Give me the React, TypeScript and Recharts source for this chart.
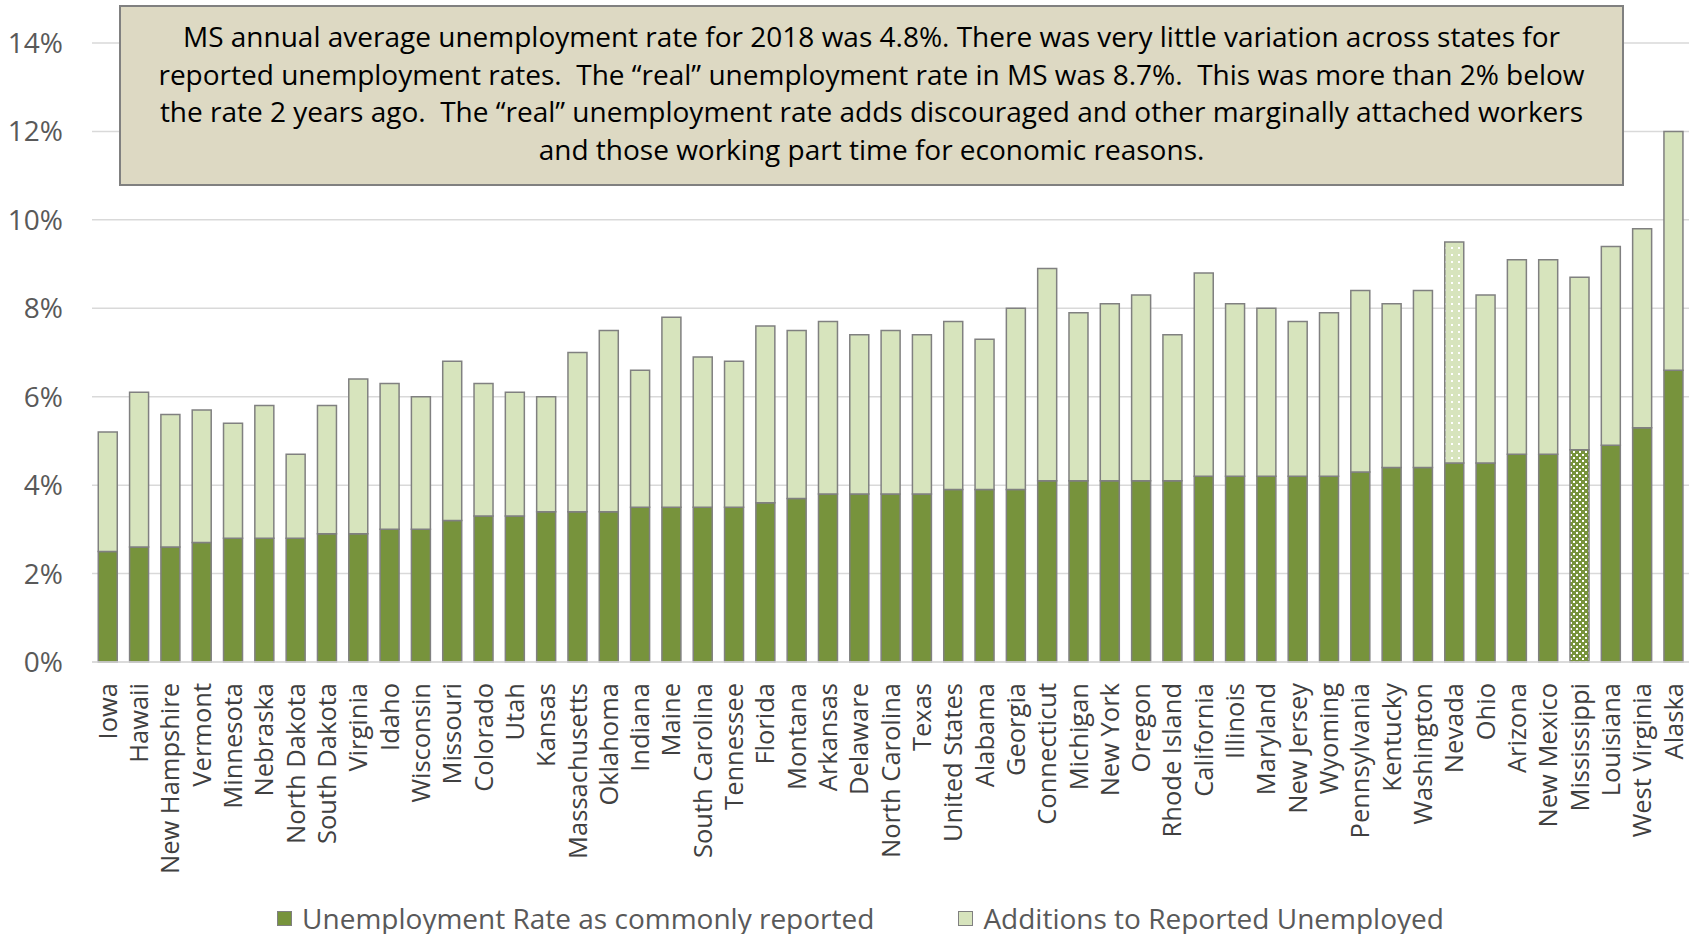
import React from 'react';
import { BarChart, Bar, XAxis, YAxis, CartesianGrid, Cell, Legend } from 'recharts';

const states = [
  'Iowa', 'Hawaii', 'New Hampshire', 'Vermont', 'Minnesota', 'Nebraska', 'North Dakota',
  'South Dakota', 'Virginia', 'Idaho', 'Wisconsin', 'Missouri', 'Colorado', 'Utah', 'Kansas',
  'Massachusetts', 'Oklahoma', 'Indiana', 'Maine', 'South Carolina', 'Tennessee', 'Florida',
  'Montana', 'Arkansas', 'Delaware', 'North Carolina', 'Texas', 'United States', 'Alabama',
  'Georgia', 'Connecticut', 'Michigan', 'New York', 'Oregon', 'Rhode Island', 'California',
  'Illinois', 'Maryland', 'New Jersey', 'Wyoming', 'Pennsylvania', 'Kentucky', 'Washington',
  'Nevada', 'Ohio', 'Arizona', 'New Mexico', 'Mississippi', 'Louisiana', 'West Virginia', 'Alaska',
];

// reported rate, percent
const reported = [
  2.5, 2.6, 2.6, 2.7, 2.8, 2.8, 2.8, 2.9, 2.9, 3.0, 3.0, 3.2, 3.3, 3.3, 3.4, 3.4, 3.4,
  3.5, 3.5, 3.5, 3.5, 3.6, 3.7, 3.8, 3.8, 3.8, 3.8, 3.9, 3.9, 3.9, 4.1, 4.1, 4.1, 4.1,
  4.1, 4.2, 4.2, 4.2, 4.2, 4.2, 4.3, 4.4, 4.4, 4.5, 4.5, 4.7, 4.7, 4.8, 4.9, 5.3, 6.6,
];

// additions on top of reported, percent
const additions = [
  2.7, 3.5, 3.0, 3.0, 2.6, 3.0, 1.9, 2.9, 3.5, 3.3, 3.0, 3.6, 3.0, 2.8, 2.6, 3.6, 4.1,
  3.1, 4.3, 3.4, 3.3, 4.0, 3.8, 3.9, 3.6, 3.7, 3.6, 3.8, 3.4, 4.1, 4.8, 3.8, 4.0, 4.2,
  3.3, 4.6, 3.9, 3.8, 3.5, 3.7, 4.1, 3.7, 4.0, 5.0, 3.8, 4.4, 4.4, 3.9, 4.5, 4.5, 5.4,
];

const yTicks = [0, 0.02, 0.04, 0.06, 0.08, 0.1, 0.12, 0.14];

const noteLines = [
  'MS annual average unemployment rate for 2018 was 4.8%. There was very little variation across states for',
  'reported unemployment rates.  The \u201creal\u201d unemployment rate in MS was 8.7%.  This was more than 2% below',
  'the rate 2 years ago.  The \u201creal\u201d unemployment rate adds discouraged and other marginally attached workers',
  'and those working part time for economic reasons.',
];

const seriesOrder = ['reported', 'additions'];

const data = states.map((name, i) => ({
  name,
  reported: reported[i] / 100,
  additions: Math.round(additions[i] * 10) / 1000,
}));

const DARK = '#77933c';
const LIGHT = '#d7e4bd';
const EDGE = '#808080';
const FONT = '"Open Sans", sans-serif';

const CategoryTick = (props: any) => {
  const { x, y, payload } = props;
  return (
    <text
      x={x}
      y={y}
      transform={`rotate(-90, ${x}, ${y})`}
      textAnchor="end"
      dy="0.36em"
      fill="#404040"
      fontSize={25.5}
      fontFamily={FONT}
    >
      {payload.value}
    </text>
  );
};

const LegendContent = (props: any) => {
  const items = [...(props.payload || [])].sort(
    (a: any, b: any) => seriesOrder.indexOf(a.dataKey) - seriesOrder.indexOf(b.dataKey),
  );
  return (
    <div
      style={{
        display: 'flex',
        justifyContent: 'center',
        paddingLeft: 27,
        fontFamily: FONT,
        fontSize: 28,
        color: '#595959',
      }}
    >
      {items.map((p: any, i: number) => (
        <div key={p.value} style={{ display: 'flex', alignItems: 'center', marginLeft: i ? 84 : 0 }}>
          <span
            style={{
              display: 'inline-block',
              width: 15,
              height: 15,
              boxSizing: 'border-box',
              background: p.color,
              border: `1px solid ${EDGE}`,
              marginRight: 10,
            }}
          />
          <span>{p.value}</span>
        </div>
      ))}
    </div>
  );
};

export default function App() {
  return (
    <div style={{ position: 'relative', width: 1694, height: 934, fontFamily: FONT }}>
      <style>{'body{margin:0}'}</style>
      <BarChart
        width={1694}
        height={934}
        data={data}
        margin={{ top: 43, right: 5, left: 0, bottom: 72 }}
        barCategoryGap="20%"
      >
        <defs>
          <pattern id="dotsLight" width="7" height="7" patternUnits="userSpaceOnUse">
            <rect width="7" height="7" fill={LIGHT} />
            <rect x="2" y="2" width="2" height="2" fill="#ffffff" />
          </pattern>
          <pattern id="dotsDark" width="6" height="6" patternUnits="userSpaceOnUse">
            <rect width="6" height="6" fill={DARK} />
            <rect x="1" y="1" width="2" height="2" fill="#ffffff" />
            <rect x="4" y="4" width="2" height="2" fill="#ffffff" />
          </pattern>
        </defs>
        <CartesianGrid vertical={false} stroke="#d9d9d9" strokeWidth={1.5} />
        <XAxis
          dataKey="name"
          interval={0}
          height={200}
          tick={<CategoryTick />}
          tickLine={false}
          tickSize={0}
          tickMargin={21}
          axisLine={{ stroke: '#d9d9d9', strokeWidth: 1.5 }}
        />
        <YAxis
          width={92}
          domain={[0, 0.14]}
          ticks={yTicks}
          tickFormatter={(v: number) => `${Math.round(v * 100)}%`}
          axisLine={false}
          tickLine={false}
          tickSize={0}
          tickMargin={29}
          tick={{ fill: '#595959', fontSize: 28, fontFamily: FONT }}
        />
        <Legend
          layout="horizontal"
          verticalAlign="middle"
          align="center"
          content={<LegendContent />}
          wrapperStyle={{ top: 899, left: 0, width: 1694, height: 38 }}
        />
        <Bar
          dataKey="reported"
          name="Unemployment Rate as commonly reported"
          stackId="a"
          fill={DARK}
          stroke={EDGE}
          strokeWidth={1.5}
          isAnimationActive={false}
        >
          {data.map((d) => (
            <Cell key={d.name} fill={d.name === 'Mississippi' ? 'url(#dotsDark)' : DARK} />
          ))}
        </Bar>
        <Bar
          dataKey="additions"
          name="Additions to Reported Unemployed"
          stackId="a"
          fill={LIGHT}
          stroke={EDGE}
          strokeWidth={1.5}
          isAnimationActive={false}
        >
          {data.map((d) => (
            <Cell key={d.name} fill={d.name === 'Nevada' ? 'url(#dotsLight)' : LIGHT} />
          ))}
        </Bar>
      </BarChart>
      <div
        style={{
          position: 'absolute',
          left: 119,
          top: 5,
          width: 1505,
          height: 181,
          boxSizing: 'border-box',
          background: '#ddd9c3',
          border: `2px solid ${EDGE}`,
          paddingTop: 11,
          textAlign: 'center',
          fontSize: 28,
          lineHeight: '37.7px',
          color: '#000000',
          whiteSpace: 'pre',
        }}
      >
        {noteLines.map((line) => (
          <div key={line}>{line}</div>
        ))}
      </div>
    </div>
  );
}
